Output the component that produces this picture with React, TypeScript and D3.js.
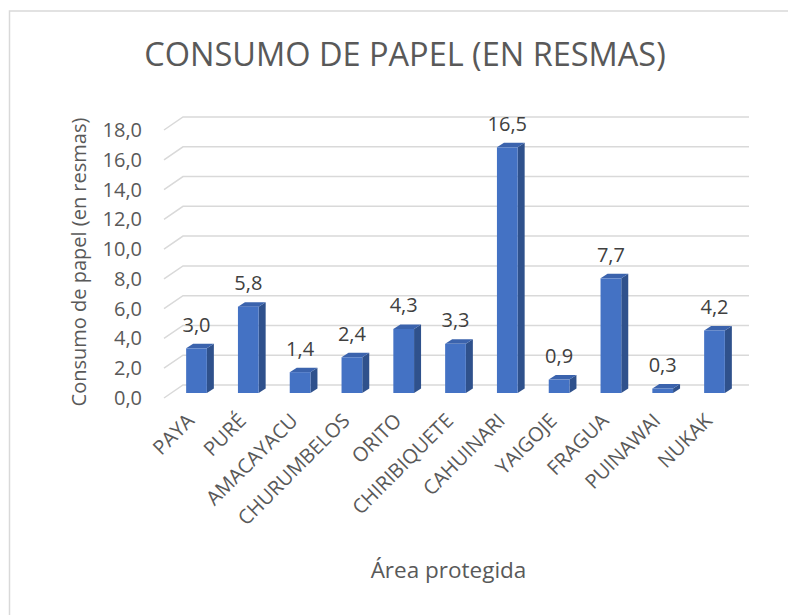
import React, { useEffect, useRef } from 'react';
import * as d3 from 'd3';

// data
const areas = ['PAYA', 'PURÉ', 'AMACAYACU', 'CHURUMBELOS', 'ORITO', 'CHIRIBIQUETE', 'CAHUINARI', 'YAIGOJE', 'FRAGUA', 'PUINAWAI', 'NUKAK'];
const resmas = [3.0, 5.8, 1.4, 2.4, 4.3, 3.3, 16.5, 0.9, 7.7, 0.3, 4.2];
const ticks = [0, 2, 4, 6, 8, 10, 12, 14, 16, 18];

const W = 788;
const H = 615;
const FONT = "'Open Sans', sans-serif";

const App = () => {
  const ref = useRef<SVGSVGElement>(null);

  useEffect(() => {
    const svg = d3.select(ref.current);
    svg.selectAll('*').remove();

    // chart border (right / bottom edges fall outside the picture)
    svg.append('rect')
      .attr('x', 9.5).attr('y', 11).attr('width', 800).attr('height', 620)
      .attr('fill', '#fff').attr('stroke', '#d9d9d9').attr('stroke-width', 1.5);

    // front plane scale
    const y = d3.scaleLinear().domain([0, 18]).range([398, 130]);
    const depthX = 19, depthY = -13;
    const floorLeft = 164, wallRight = 749;

    // gridlines: short diagonal on the side wall + line on the back wall
    const grid = svg.append('g');
    ticks.forEach(t => {
      const y0 = y(t);
      grid.append('path')
        .attr('d', d3.line()([[floorLeft, y0], [floorLeft + depthX, y0 + depthY], [wallRight, y0 + depthY]]))
        .attr('fill', 'none').attr('stroke', '#d9d9d9').attr('stroke-width', 1.5);
    });

    // tick labels
    svg.append('g').selectAll('text').data(ticks).enter().append('text')
      .attr('x', 142).attr('y', d => y(d) + 7)
      .attr('text-anchor', 'end')
      .attr('font-family', FONT).attr('font-size', 20).attr('fill', '#595959')
      .text(d => d3.format('.1f')(d).replace('.', ','));

    // bars, set slightly into the depth
    const x = d3.scaleBand().domain(areas).range([170.6, 740.4]).paddingInner(0.6).paddingOuter(0.3);
    const bx = 7, by = -4.5;
    const yb = (v: number) => y(v) - 5;
    const bw = x.bandwidth();

    const bars = svg.append('g').selectAll('g').data(areas).enter().append('g');
    bars.append('path') // side
      .attr('d', (d, i) => {
        const x1 = x(d)! + bw, top = yb(resmas[i]), base = yb(0);
        return `M${x1},${base}L${x1},${top}L${x1 + bx},${top + by}L${x1 + bx},${base + by}Z`;
      })
      .attr('fill', '#2f518c');
    bars.append('path') // top
      .attr('d', (d, i) => {
        const x0 = x(d)!, top = yb(resmas[i]);
        return `M${x0},${top}L${x0 + bw},${top}L${x0 + bw + bx},${top + by}L${x0 + bx},${top + by}Z`;
      })
      .attr('fill', '#3b63ad');
    bars.append('rect') // front
      .attr('x', d => x(d)!).attr('width', bw)
      .attr('y', (d, i) => yb(resmas[i]))
      .attr('height', (d, i) => yb(0) - yb(resmas[i]))
      .attr('fill', '#4472c4');

    // value labels
    svg.append('g').selectAll('text').data(areas).enter().append('text')
      .attr('x', d => x(d)! + bw / 2)
      .attr('y', (d, i) => yb(resmas[i]) - 16.5)
      .attr('text-anchor', 'middle')
      .attr('font-family', FONT).attr('font-size', 20).attr('fill', '#404040')
      .text((d, i) => d3.format('.1f')(resmas[i]).replace('.', ','));

    // category labels rotated -45
    svg.append('g').selectAll('text').data(areas).enter().append('text')
      .attr('transform', d => `translate(${x(d)! + bw / 2 - 1},${422}) rotate(-45)`)
      .attr('text-anchor', 'end')
      .attr('font-family', FONT).attr('font-size', 20).attr('fill', '#595959')
      .text(d => d);

    // titles
    svg.append('text')
      .attr('x', 405).attr('y', 66).attr('text-anchor', 'middle')
      .attr('font-family', FONT).attr('font-size', 32.5).attr('fill', '#595959')
      .text('CONSUMO DE PAPEL (EN RESMAS)');
    svg.append('text')
      .attr('transform', 'translate(86,262) rotate(-90)').attr('text-anchor', 'middle')
      .attr('font-family', FONT).attr('font-size', 20).attr('fill', '#595959')
      .text('Consumo de papel (en resmas)');
    svg.append('text')
      .attr('x', 448.5).attr('y', 578).attr('text-anchor', 'middle')
      .attr('font-family', FONT).attr('font-size', 22.5).attr('fill', '#595959')
      .text('Área protegida');
  }, []);

  return (
    <svg ref={ref} width={W} height={H} style={{ position: 'absolute', left: 0, top: 0, background: '#fff' }} />
  );
};

export default App;
